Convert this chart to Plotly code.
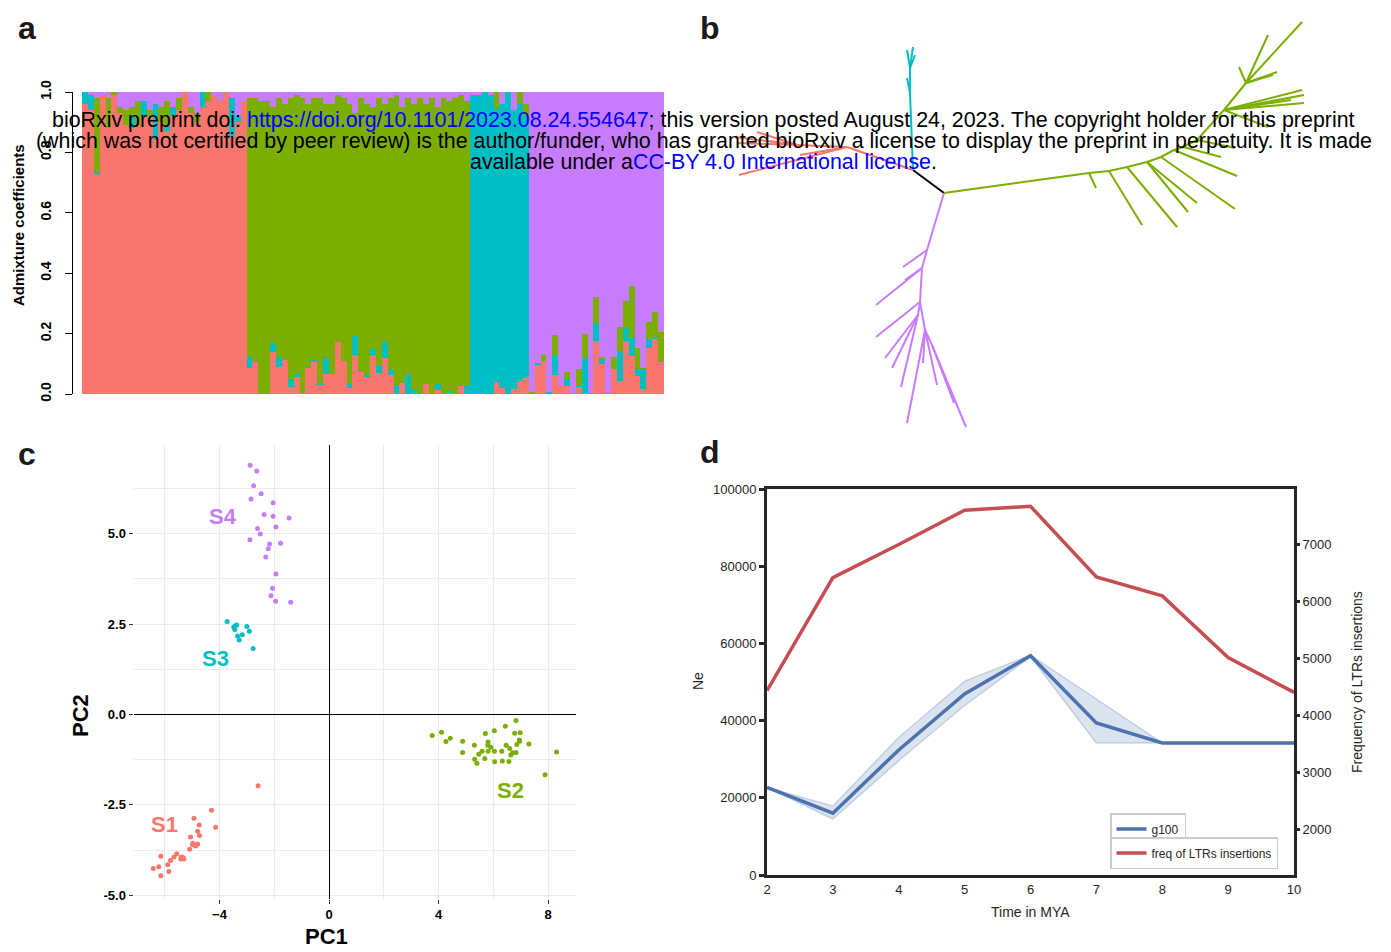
import plotly.graph_objects as go

W, H = 1391, 952
# the page shows the figure with an 8 px body margin
OX, OY = 8, 8
def fx(px): return (px - OX) / W
def fy(py): return 1 - (py - OY) / H

# ---------------- Panel a : admixture (K=4) ----------------
# groups: S1 (28 ind.), S2 (38), S3 (10), S4 (23)
k1_red = ([0.96,0.94,0.73,0.99,0.88,0.99,0.93,0.89,0.88,0.89,0.92,0.92,0.84,0.90,0.87,0.92,0.94,1.00,0.93,0.90,0.95,0.97,0.99,0.97,1.00,0.85,0.90,0.97]
          + [0.085,0.107,0,0,0.140,0.091,0.113,0.024,0.059,0.004,0.088,0.109,0.033,0.066,0.066,0.172,0.110,0.019,0.129,0.074,0.057,0.129,0.071,0.118,0.063,0,0.038,0,0.002,0,0.033,0,0.014,0,0.002,0,0.027,0]
          + [0,0,0,0,0.041,0.021,0,0.017,0.043,0.056]
          + [0,0.099,0.109,0,0.062,0.026,0.026,0,0.022,0.002,0,0.175,0.099,0,0.083,0.044,0.175,0.126,0.060,0.017,0.153,0.183,0.107])
k2_green = ([0.00,0.00,0.24,0.00,0.10,0.01,0.02,0.05,0.03,0.08,0.00,0.02,0.00,0.05,0.08,0.00,0.04,0.00,0.02,0.03,0.00,0.03,0.00,0.00,0.00,0.00,0.00,0.00]
            + [0.856,0.870,0.97,0.97,0.78,0.856,0.847,0.929,0.925,0.976,0.869,0.867,0.942,0.842,0.894,0.818,0.870,0.922,0.739,0.903,0.897,0.801,0.887,0.789,0.901,0.960,0.912,0.915,0.948,0.976,0.927,0.98,0.917,0.98,0.959,0.98,0.96,0.945]
            + [0,0,0,0,0.057,0,0,0,0.04,0.04]
            + [0.005,0,0.019,0,0.067,0,0.023,0.004,0.053,0.079,0.004,0.086,0.003,0.004,0.039,0.080,0.088,0.172,0.070,0.004,0.057,0.084,0.096])
k3_cyan = ([0.04,0.05,0.01,0.00,0.00,0.00,0.00,0.00,0.04,0.00,0.05,0.00,0.12,0.00,0.02,0.03,0.00,0.00,0.00,0.00,0.05,0.00,0.00,0.00,0.00,0.13,0.02,0.00]
           + [0.039,0.003,0,0,0.030,0.033,0,0.027,0.006,0,0.003,0.004,0.005,0.052,0,0,0,0.019,0.062,0.003,0.006,0.020,0.022,0.053,0.016,0.030,0,0.065,0.010,0.004,0,0,0.019,0,0.009,0,0.003,0.025]
           + [0.99,0.99,1.00,0.99,0.902,0.939,1.00,0.923,0.917,0.864]
           + [0,0.004,0,0.005,0.066,0,0.024,0,0.007,0.118,0,0.060,0.019,0,0,0.098,0.045,0.060,0.023,0.066,0.028,0.005,0.003])
k4_purple = ([0.00,0.01,0.02,0.01,0.02,0.00,0.05,0.06,0.05,0.03,0.03,0.06,0.04,0.05,0.03,0.05,0.02,0.00,0.05,0.07,0.00,0.00,0.01,0.03,0.00,0.02,0.08,0.03]
             + [0.02,0.02,0.03,0.03,0.05,0.02,0.04,0.02,0.01,0.02,0.04,0.02,0.02,0.04,0.04,0.01,0.02,0.04,0.07,0.02,0.04,0.05,0.02,0.04,0.02,0.01,0.05,0.02,0.04,0.02,0.04,0.02,0.05,0.02,0.03,0.02,0.01,0.03]
             + [0.01,0.01,0,0.01,0,0.04,0,0.06,0,0.04]
             + [0.995,0.897,0.872,0.995,0.805,0.974,0.927,0.996,0.918,0.801,0.996,0.679,0.879,0.996,0.878,0.778,0.692,0.642,0.847,0.913,0.762,0.728,0.794])
individuals = list(range(len(k1_red)))
admix_ticks = [0.0, 0.2, 0.4, 0.6, 0.8, 1.0]

COL = {"S1": "#F8766D", "S2": "#7CAE00", "S3": "#00BFC4", "S4": "#C77CFF"}

# ---------------- Panel b : unrooted tree (layout units) ----------------
tree_black = [((0, 0), (-31, 23))]
tree_cyan = [((-31, 23), (-34, 100)), ((-34, 100), (-34, 125)), ((-34, 125), (-37, 143)),
             ((-34, 125), (-31, 146)), ((-34, 125), (-29, 138)), ((-34, 100), (-37, 115))]
tree_red = [((-31, 23), (-97, 46)), ((-97, 46), (-147, 48)), ((-147, 48), (-209, 56)),
            ((-147, 48), (-207, 50)), ((-147, 48), (-187, 61)), ((-147, 48), (-174, 52)),
            ((-97, 46), (-205, 18)), ((-97, 46), (-144, 38))]
tree_green = [((0, 0), (145, 20)), ((145, 20), (165, 22)), ((165, 22), (183, 26)), ((183, 26), (203, 31)),
              ((203, 31), (217, 36)), ((217, 36), (230, 43)), ((230, 43), (239, 46)), ((239, 46), (253, 53)),
              ((253, 53), (280, 83)), ((280, 83), (302, 110)),
              ((145, 20), (152, 5)), ((165, 22), (198, -32)), ((183, 26), (233, -34)), ((203, 31), (253, -10)),
              ((203, 31), (244, -19)), ((217, 36), (291, -16)), ((230, 43), (293, 17)), ((239, 46), (277, 36)),
              ((253, 53), (291, 45)),
              ((302, 110), (358, 171)), ((302, 110), (324, 158)), ((302, 110), (333, 121)),
              ((302, 110), (329, 118)), ((302, 110), (295, 126)),
              ((280, 83), (360, 90)), ((280, 83), (358, 103)), ((280, 83), (360, 98)),
              ((280, 83), (347, 93)), ((280, 83), (324, 66))]
tree_purple = [((0, 0), (-17, -57)), ((-17, -57), (-41, -74)), ((-17, -57), (-22, -75)),
               ((-22, -75), (-68, -112)), ((-22, -75), (-39, -87)), ((-22, -75), (-24, -109)),
               ((-24, -109), (-68, -144)), ((-24, -109), (-26, -122)),
               ((-26, -122), (-59, -165)), ((-26, -122), (-52, -175)), ((-26, -122), (-43, -194)),
               ((-24, -109), (-19, -137)), ((-19, -137), (-37, -230)), ((-19, -137), (-21, -170)),
               ((-19, -137), (-7, -192)), ((-19, -137), (-12, -152)),
               ((-12, -152), (22, -234)), ((-12, -152), (10, -210))]

# ---------------- Panel c : PCA ----------------
S1_x = [-2.59,-4.29,-4.14,-4.93,-4.74,-4.80,-4.73,-5.06,-4.97,-4.80,-4.88,-4.99,-5.09,-5.37,-5.41,-5.32,-5.56,-5.66,-6.14,-5.79,-5.89,-6.22,-6.42,-5.85,-6.14,-5.30,-5.40,-4.85]
S1_y = [-1.97,-2.65,-3.12,-2.87,-3.06,-3.23,-3.35,-3.39,-3.56,-3.58,-3.64,-3.60,-3.73,-3.94,-4.00,-3.97,-3.85,-3.94,-3.92,-4.04,-4.16,-4.21,-4.26,-4.34,-4.46,-4.00,-3.95,-3.62]
S2_x = [6.83,6.44,6.04,5.71,6.78,6.98,3.77,4.11,4.43,4.27,4.88,5.81,6.95,6.96,7.30,5.31,5.80,6.47,6.86,5.91,6.60,5.59,5.47,5.81,6.04,6.31,4.88,6.70,6.83,6.64,8.31,5.32,5.69,5.40,6.05,6.33,6.57,7.89]
S2_y = [-0.17,-0.33,-0.45,-0.53,-0.52,-0.51,-0.58,-0.49,-0.66,-0.75,-0.74,-0.76,-0.71,-0.74,-0.82,-0.85,-0.85,-0.85,-0.83,-0.91,-0.94,-1.02,-1.10,-1.02,-1.02,-1.02,-1.05,-1.06,-1.05,-1.12,-1.04,-1.24,-1.22,-1.35,-1.31,-1.29,-1.30,-1.67]
S3_x = [-3.72,-3.37,-3.48,-3.44,-3.00,-2.91,-3.34,-3.17,-3.28,-2.77,-3.42]
S3_y = [2.57,2.47,2.42,2.35,2.43,2.30,2.17,2.20,2.06,1.82,2.45]
S4_x = [-2.88,-2.64,-2.75,-2.48,-2.85,-2.04,-2.37,-2.04,-1.46,-1.94,-2.61,-2.51,-2.89,-1.77,-2.17,-2.22,-2.31,-1.94,-2.06,-2.12,-1.95,-1.40]
S4_y = [6.89,6.73,6.32,6.10,5.96,5.85,5.53,5.48,5.43,5.18,5.14,4.99,4.83,4.73,4.71,4.58,4.35,3.88,3.49,3.28,3.13,3.10]
group_labels = ["S1", "S2", "S3", "S4"]
label_x = [-5.99, 6.64, -4.16, -3.87]
label_y = [-3.03, -2.09, 1.56, 5.47]

# ---------------- Panel d : Ne & LTR insertions ----------------
time_mya = [2, 3, 4, 5, 6, 7, 8, 9, 10]
ne_g100 = [22700, 16000, 32400, 46900, 56800, 39400, 34200, 34200, 34200]
ne_low = [22700, 14500, 29600, 43900, 56500, 34200, 34200, 34200, 34200]
ne_high = [22700, 17900, 35700, 50200, 57000, 45700, 34200, 34200, 34200]
ltr_freq = [4440, 6420, 7000, 7600, 7670, 6430, 6100, 5020, 4410]

FONT = "Liberation Sans, Arial, sans-serif"
fig = go.Figure()

# ---- a
for vals, name, c in [(k1_red, "K1", COL["S1"]), (k3_cyan, "K3", COL["S3"]),
                      (k2_green, "K2", COL["S2"]), (k4_purple, "K4", COL["S4"])]:
    fig.add_trace(go.Bar(x=individuals, y=vals, name=name, marker=dict(color=c, line=dict(width=0)),
                         xaxis="x", yaxis="y", showlegend=False))

# ---- b
def segs(edges):
    xs, ys = [], []
    for (a, b) in edges:
        xs += [a[0], b[0], None]
        ys += [a[1], b[1], None]
    return xs, ys

for edges, c in [(tree_black, "black"), (tree_cyan, COL["S3"]), (tree_red, COL["S1"]),
                 (tree_green, COL["S2"]), (tree_purple, COL["S4"])]:
    xs, ys = segs(edges)
    fig.add_trace(go.Scatter(x=xs, y=ys, mode="lines", line=dict(color=c, width=2),
                             xaxis="x2", yaxis="y2", showlegend=False, hoverinfo="skip"))

# ---- c
for gx, gy, g in [(S1_x, S1_y, "S1"), (S2_x, S2_y, "S2"), (S3_x, S3_y, "S3"), (S4_x, S4_y, "S4")]:
    fig.add_trace(go.Scatter(x=gx, y=gy, mode="markers", marker=dict(color=COL[g], size=5),
                             xaxis="x3", yaxis="y3", showlegend=False))
for lab, lx, ly in zip(group_labels, label_x, label_y):
    fig.add_annotation(x=lx, y=ly, xref="x3", yref="y3", text="<b>%s</b>" % lab, showarrow=False,
                       font=dict(family=FONT, size=22, color=COL[lab]))

# ---- d
fig.add_trace(go.Scatter(x=time_mya, y=ne_high, mode="lines", line=dict(width=1.5, color="rgba(76,114,176,0.25)"),
                         xaxis="x4", yaxis="y4", showlegend=False, hoverinfo="skip"))
fig.add_trace(go.Scatter(x=time_mya, y=ne_low, mode="lines", fill="tonexty", fillcolor="rgba(76,114,176,0.2)",
                         line=dict(width=1.5, color="rgba(76,114,176,0.25)"),
                         xaxis="x4", yaxis="y4", showlegend=False, hoverinfo="skip"))
fig.add_trace(go.Scatter(x=time_mya, y=ne_g100, mode="lines", name="g100", line=dict(color="#4C72B0", width=3.5),
                         xaxis="x4", yaxis="y4", legend="legend"))
fig.add_trace(go.Scatter(x=time_mya, y=ltr_freq, mode="lines", name="freq of LTRs insertions",
                         line=dict(color="#C44E52", width=3.5), xaxis="x4", yaxis="y5", legend="legend2"))

dfont = dict(family=FONT, size=13, color="#262626")
lfont = dict(family=FONT, size=12, color="#262626")
fig.update_layout(
    width=W, height=H, margin=dict(l=0, r=0, t=0, b=0, autoexpand=False),
    paper_bgcolor="white", plot_bgcolor="white",
    barmode="stack", bargap=0,
    # a
    xaxis=dict(domain=[fx(82), fx(664)], range=[-0.5, len(individuals) - 0.5], visible=False, anchor="y"),
    yaxis=dict(domain=[fy(394), fy(92)], range=[0, 1], anchor="free", position=fx(72),
               showline=True, linecolor="black", linewidth=1, ticks="outside", ticklen=7, tickcolor="black",
               tickvals=admix_ticks, ticktext=["%.1f" % v for v in admix_ticks], tickangle=-90,
               ticklabelstandoff=8,
               tickfont=dict(family=FONT, size=14, color="black", weight="bold"),
               showgrid=False, zeroline=False),
    # b
    xaxis2=dict(domain=[fx(700), fx(1391)], range=[700 - 944, 1391 - 944], visible=False, anchor="y2"),
    yaxis2=dict(domain=[fy(440), fy(10)], range=[193 - 440, 193 - 10], visible=False, anchor="x2"),
    # c
    xaxis3=dict(domain=[fx(133.5), fx(576)], range=[-7.14, 9.02], anchor="y3",
                tickvals=[-4, 0, 4, 8], ticks="outside", ticklen=4, tickcolor="#333333",
                tickfont=dict(family=FONT, size=13, color="black", weight="bold"),
                showgrid=True, gridcolor="#EBEBEB", gridwidth=1,
                minor=dict(tickvals=[-6, -2, 2, 6], showgrid=True, gridcolor="#EBEBEB", gridwidth=1),
                zeroline=True, zerolinecolor="black", zerolinewidth=1, showline=False),
    yaxis3=dict(domain=[fy(898.5), fy(445)], range=[-5.09, 7.45], anchor="x3",
                tickvals=[-5, -2.5, 0, 2.5, 5], ticktext=["-5.0", "-2.5", "0.0", "2.5", "5.0"],
                ticks="outside", ticklen=4, tickcolor="#333333",
                tickfont=dict(family=FONT, size=13, color="black", weight="bold"),
                showgrid=True, gridcolor="#EBEBEB", gridwidth=1,
                minor=dict(tickvals=[-3.75, -1.25, 1.25, 3.75, 6.25], showgrid=True, gridcolor="#EBEBEB", gridwidth=1),
                zeroline=True, zerolinecolor="black", zerolinewidth=1, showline=False),
    # d
    xaxis4=dict(domain=[fx(767), fx(1294)], range=[2, 10], anchor="y4", tickvals=time_mya,
                showline=True, linecolor="#262626", linewidth=3, mirror=True, ticks="", tickfont=dfont,
                showgrid=False, zeroline=False),
    yaxis4=dict(domain=[fy(875), fy(489)], range=[0, 100000], anchor="x4", tickvals=[0, 20000, 40000, 60000, 80000, 100000],
                tickformat="d", showline=True, linecolor="#262626", linewidth=3, mirror=True,
                ticks="outside", ticklen=5, tickwidth=2.5, tickcolor="#262626", tickfont=dfont,
                showgrid=False, zeroline=False),
    yaxis5=dict(overlaying="y4", side="right", anchor="x4", range=[1209, 7973],
                tickvals=[2000, 3000, 4000, 5000, 6000, 7000], tickformat="d",
                ticks="outside", ticklen=5, tickwidth=2.5, tickcolor="#262626", tickfont=dfont,
                showgrid=False, zeroline=False, showline=False),
    legend=dict(x=fx(1110), y=fy(813), xanchor="left", yanchor="top", bgcolor="white",
                bordercolor="#cccccc", borderwidth=1.5, font=lfont, itemwidth=30, tracegroupgap=0),
    legend2=dict(x=fx(1110), y=fy(837), xanchor="left", yanchor="top", bgcolor="white",
                 bordercolor="#cccccc", borderwidth=1.5, font=lfont, itemwidth=30, tracegroupgap=0),
)

def ann(px, py, text, size, color="black", angle=0, bold=False, xanchor="center", yanchor="middle"):
    fig.add_annotation(x=fx(px), y=fy(py), xref="paper", yref="paper", text=text, showarrow=False,
                       textangle=angle, xanchor=xanchor, yanchor=yanchor,
                       font=dict(family=FONT, size=size, color=color, weight="bold" if bold else "normal"))

# axis titles
ann(19, 225, "Admixture coefficients", 15, bold=True, angle=-90)
ann(80, 716, "PC2", 22, bold=True, angle=-90)
ann(326, 936, "PC1", 22, bold=True)
ann(698, 681, "Ne", 14, color="#262626", angle=-90)
ann(1030, 912, "Time in MYA", 14, color="#262626")
ann(1357, 682, "Frequency of LTRs insertions", 14, color="#262626", angle=-90)

# panel letters
ann(27, 8, "a", 32, color="#1a1a1a", bold=True, yanchor="top")
ann(710, 8, "b", 32, color="#1a1a1a", bold=True, yanchor="top")
ann(27, 454, "c", 32, color="#1a1a1a", bold=True)
ann(710, 452, "d", 32, color="#1a1a1a", bold=True)

# preprint overlay
BLUE = "#0000ff"
ann(704, 120, 'bioRxiv preprint doi: <span style="color:%s">https://doi.org/10.1101/2023.08.24.554647</span>; '
              'this version posted August 24, 2023. The copyright holder for this preprint' % BLUE, 21.4)
ann(704, 141, "(which was not certified by peer review) is the author/funder, who has granted bioRxiv a license "
              "to display the preprint in perpetuity. It is made", 21.4)
ann(704, 162, 'available under a<span style="color:%s">CC-BY 4.0 International license</span>.' % BLUE, 21.4)

fig.write_html("out.html")
